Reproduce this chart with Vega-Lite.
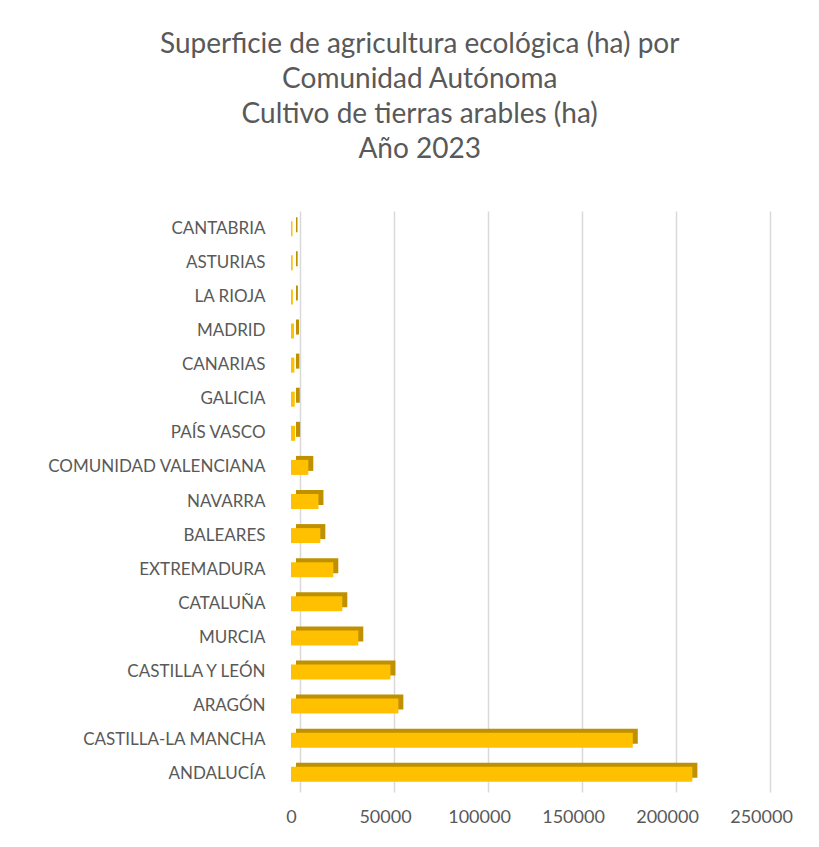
{
  "$schema": "https://vega.github.io/schema/vega-lite/v6.json",
  "autosize": {"type": "none"},
  "padding": {"left": 291, "top": 211, "right": 58, "bottom": 55},
  "width": 470,
  "height": 581,
  "background": "white",
  "config": {"view": {"stroke": null}, "font": "Lato"},
  "title": {
    "text": ["Superficie de agricultura ecológica (ha) por", "Comunidad Autónoma", "Cultivo de tierras arables (ha)", "Año 2023"],
    "font": "Lato",
    "fontSize": 28,
    "fontWeight": "normal",
    "color": "#595959",
    "lineHeight": 35,
    "anchor": "middle",
    "frame": "bounds",
    "offset": 47
  },
  "data": {
    "values": [
      {"region": "CANTABRIA", "ha": 800},
      {"region": "ASTURIAS", "ha": 900},
      {"region": "LA RIOJA", "ha": 1000},
      {"region": "MADRID", "ha": 1600},
      {"region": "CANARIAS", "ha": 1800},
      {"region": "GALICIA", "ha": 2000},
      {"region": "PAÍS VASCO", "ha": 2200},
      {"region": "COMUNIDAD VALENCIANA", "ha": 9200},
      {"region": "NAVARRA", "ha": 14600},
      {"region": "BALEARES", "ha": 15600},
      {"region": "EXTREMADURA", "ha": 22500},
      {"region": "CATALUÑA", "ha": 27300},
      {"region": "MURCIA", "ha": 35800},
      {"region": "CASTILLA Y LEÓN", "ha": 52900},
      {"region": "ARAGÓN", "ha": 57100},
      {"region": "CASTILLA-LA MANCHA", "ha": 181800},
      {"region": "ANDALUCÍA", "ha": 213500}
    ]
  },
  "encoding": {
    "y": {
      "field": "region",
      "type": "nominal",
      "sort": null,
      "scale": {"paddingInner": 0.56, "paddingOuter": 0.3},
      "axis": {
        "title": null,
        "domain": false,
        "ticks": false,
        "labelFont": "Lato",
        "labelFontSize": 17,
        "labelColor": "#595959",
        "labelPadding": 26,
        "labelLimit": 400
      }
    },
    "x": {
      "field": "ha",
      "type": "quantitative",
      "scale": {"domain": [0, 250000], "nice": false},
      "axis": {
        "title": null,
        "values": [0, 50000, 100000, 150000, 200000, 250000],
        "format": "d",
        "domain": false,
        "ticks": false,
        "grid": true,
        "gridColor": "#d9d9d9",
        "gridWidth": 1.5,
        "tickOffset": 9,
        "labelOffset": -9,
        "labelFlush": false,
        "labelFont": "Lato",
        "labelFontSize": 18,
        "labelColor": "#595959",
        "labelPadding": 16
      }
    }
  },
  "layer": [
    {
      "mark": {"type": "bar", "color": "#BF9000", "xOffset": 5, "yOffset": -4, "orient": "horizontal"}
    },
    {
      "mark": {"type": "bar", "color": "#FFC000", "orient": "horizontal"}
    }
  ]
}
